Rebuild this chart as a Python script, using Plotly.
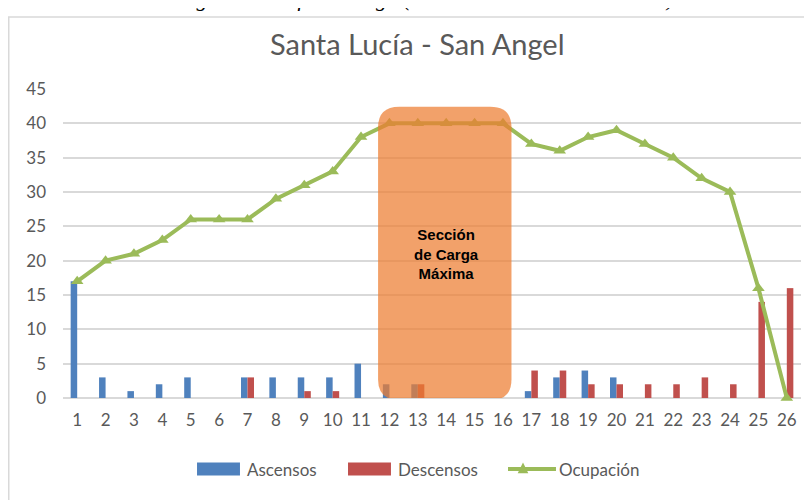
import plotly.graph_objects as go

# Data
paradas = [str(i) for i in range(1, 27)]
ascensos = [17, 3, 1, 2, 3, 0, 3, 3, 3, 3, 5, 2, 2, 0, 0, 0, 1, 3, 4, 3, 0, 0, 0, 0, 0, 0]
descensos = [0, 0, 0, 0, 0, 0, 3, 0, 1, 1, 0, 0, 2, 0, 0, 0, 4, 4, 2, 2, 2, 2, 3, 2, 14, 16]
ocupacion = [17, 20, 21, 23, 26, 26, 26, 29, 31, 33, 38, 40, 40, 40, 40, 40,
             37, 36, 38, 39, 37, 35, 32, 30, 16, 0]
y_ticks = [0, 5, 10, 15, 20, 25, 30, 35, 40, 45]

# Colours (Office palette)
colors = {
    'Ascensos': '#4F81BD',
    'Descensos': '#C0504D',
    'Ocupación': '#9BBB59',
    'Seccion': 'rgba(237,125,49,0.72)',
    'Grid': '#D9D9D9',
    'Text': '#595959',
}

fig = go.Figure()

fig.add_trace(go.Bar(
    x=paradas, y=ascensos, name='Ascensos',
    marker_color=colors['Ascensos'], marker_line_width=0
))
fig.add_trace(go.Bar(
    x=paradas, y=descensos, name='Descensos',
    marker_color=colors['Descensos'], marker_line_width=0
))
fig.add_trace(go.Scatter(
    x=paradas, y=ocupacion, name='Ocupación', mode='lines+markers',
    line=dict(color=colors['Ocupación'], width=4),
    marker=dict(symbol='triangle-up', size=11, color=colors['Ocupación']),
    cliponaxis=False
))

# rounded box over the max load section (categories 12-16)
x0, x1, y0, y1 = 10.6, 15.3, -0.3, 42.4
rx, ry = 0.75, 3.0
path = (f"M {x0+rx},{y1} L {x1-rx},{y1} Q {x1},{y1} {x1},{y1-ry} "
        f"L {x1},{y0+ry} Q {x1},{y0} {x1-rx},{y0} L {x0+rx},{y0} "
        f"Q {x0},{y0} {x0},{y0+ry} L {x0},{y1-ry} Q {x0},{y1} {x0+rx},{y1} Z")
fig.add_shape(type='path', path=path, xref='x', yref='y',
              fillcolor=colors['Seccion'], line_width=0, layer='above')

fig.add_annotation(
    x=13.0, y=21.0, xref='x', yref='y', showarrow=False,
    text='<b>Sección<br>de Carga<br>Máxima</b>',
    font=dict(family='Liberation Sans', size=15, color='black'),
    align='center'
)

# chart frame
fig.add_shape(type='rect', xref='paper', yref='paper',
              x0=-0.0735, x1=1.1, y0=-0.4, y1=1.233,
              line=dict(color=colors['Grid'], width=1.5), layer='below')

# cut-off caption above the chart
fig.add_annotation(
    x=0.49, y=1.246, xref='paper', yref='paper', showarrow=False,
    xanchor='center', yanchor='bottom',
    text='<i>Figura 4. Perfil de carga (Sección de máxima demanda)</i>',
    font=dict(family='Liberation Serif', size=22, color='black')
)

# legend drawn like the Office one (wide colour swatches)
ly = -0.2298
dy = 0.021
legend_items = [
    ('Ascensos', 0.1816, 0.2398),
    ('Descensos', 0.3862, 0.4444),
]
for name, lx0, lx1 in legend_items:
    fig.add_shape(type='rect', xref='paper', yref='paper',
                  x0=lx0, x1=lx1, y0=ly - dy, y1=ly + dy,
                  fillcolor=colors[name], line_width=0)
    fig.add_annotation(x=lx1 + 0.007, y=ly, xref='paper', yref='paper',
                       xanchor='left', yanchor='middle', showarrow=False,
                       text=name, font=dict(size=17, color=colors['Text']))
fig.add_shape(type='line', xref='paper', yref='paper',
              x0=0.603, x1=0.668, y0=ly, y1=ly,
              line=dict(color=colors['Ocupación'], width=4))
fig.add_shape(type='path', xref='paper', yref='paper',
              path=f"M 0.6233,{ly + 0.021} L 0.6305,{ly - 0.014} L 0.6161,{ly - 0.014} Z",
              fillcolor=colors['Ocupación'], line_width=0)
fig.add_annotation(x=0.6694, y=ly, xref='paper', yref='paper',
                   xanchor='left', yanchor='middle', showarrow=False,
                   text='Ocupación', font=dict(size=17, color=colors['Text']))

fig.update_layout(
    width=812, height=500,
    margin=dict(l=55, r=19, t=81, b=110, autoexpand=False),
    paper_bgcolor='white', plot_bgcolor='white',
    barmode='group', bargap=0.54, bargroupgap=0,
    showlegend=False,
    title=dict(text='Santa Lucía - San Angel', x=0.504, xanchor='center',
               y=0.926, yanchor='middle', automargin=False,
               font=dict(family='Lato', size=29, color=colors['Text'])),
    font=dict(family='Lato', color=colors['Text'], size=16),
    xaxis=dict(range=[-0.5, 25.5], showgrid=False, showline=False, ticks='',
               tickfont=dict(size=17), ticklabelstandoff=10, automargin=False),
    yaxis=dict(range=[0, 45], tickvals=y_ticks, gridcolor=colors['Grid'], gridwidth=1.5,
               zeroline=True, zerolinecolor=colors['Grid'], zerolinewidth=1.5,
               showline=False, ticks='', ticklabelstandoff=16, tickfont=dict(size=17),
               automargin=False),
)

fig.write_html("out.html")
